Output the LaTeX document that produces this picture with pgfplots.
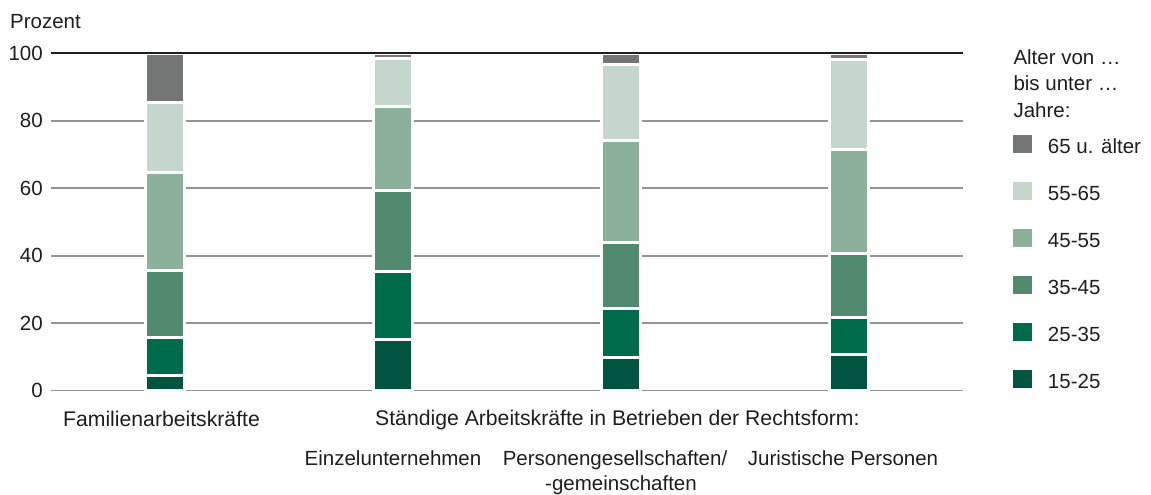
\documentclass[border=0pt]{standalone}
\usepackage{pgfplots}
\pgfplotsset{compat=1.18}
\usepackage{fontspec}
\setmainfont{Liberation Sans}
\definecolor{cfz}{HTML}{005440}
\definecolor{cfe}{HTML}{006B4B}
\definecolor{cde}{HTML}{528A70}
\definecolor{cve}{HTML}{8BB19B}
\definecolor{cff}{HTML}{C5D6CC}
\definecolor{csf}{HTML}{747676}
\definecolor{tc}{HTML}{1E1E1E}
\definecolor{gc}{HTML}{949494}
\begin{document}
\fontsize{20.5pt}{25pt}\selectfont
\begin{tikzpicture}
\useasboundingbox (0pt,0pt) rectangle (1151pt,-495pt);
\begin{axis}[
  name=ax,
  at={(51pt,-390.5pt)}, anchor=south west,
  scale only axis, width=912pt, height=337.2pt,
  xmin=-0.5, xmax=3.5, ymin=0, ymax=100,
  clip=false,
  ybar stacked, bar width=38.5pt,
  axis line style={draw=none},
  major tick length=0pt,
  tick style={draw=none},
  ytick={0,20,40,60,80,100},
  ymajorgrids, grid style={gc, line width=1.8pt},
  yticklabel style={anchor=east, inner sep=0pt, xshift=-8pt, text=tc},
  /pgf/number format/assume math mode=true,
  xtick={1,2,3},
  xticklabels={Einzelunternehmen,{Personengesellschaften/\hspace*{12pt}\\-gemeinschaften},{Juristische Personen\hspace*{12pt}}},
  xticklabel style={anchor=north, align=center, inner sep=0pt, yshift=-59.5pt, text=tc},
  extra x ticks={0},
  extra x tick labels={{\fontsize{21.2pt}{25pt}\selectfont Familienarbeitskräfte\hspace*{7pt}}},
  extra x tick style={xticklabel style={yshift=39.2pt}},
  reverse legend,
  legend style={at={(1.0548,0.7577)}, anchor=north west, draw=none, fill=none,
    inner xsep=0pt, inner ysep=0pt, outer sep=0pt, row sep=28.7pt, column sep=16pt,
    nodes={inner sep=0pt, text depth=0pt, text=tc}, cells={anchor=base west}},
  every axis plot post/.append style={legend image code/.code={\fill[##1,draw=none] (0pt,-0.3pt) rectangle (19pt,18pt);}},
]
\addplot[fill=cfz, draw=white, line width=3pt] coordinates {(0,4.4) (1,15.1) (2,9.8) (3,10.6)};
\addlegendentry{15-25}
\addplot[fill=cfe, draw=white, line width=3pt] coordinates {(0,11.4) (1,20.2) (2,14.4) (3,11.1)};
\addlegendentry{25-35}
\addplot[fill=cde, draw=white, line width=3pt] coordinates {(0,19.7) (1,24.1) (2,19.7) (3,18.8)};
\addlegendentry{35-45}
\addplot[fill=cve, draw=white, line width=3pt] coordinates {(0,29.1) (1,24.9) (2,30.2) (3,31.1)};
\addlegendentry{45-55}
\addplot[fill=cff, draw=white, line width=3pt] coordinates {(0,20.7) (1,14.3) (2,22.5) (3,26.7)};
\addlegendentry{55-65}
\addplot[fill=csf, draw=white, line width=3pt] coordinates {(0,14.7) (1,1.4) (2,3.4) (3,1.7)};
\addlegendentry{65 u. älter}
\end{axis}
\draw[tc, line width=2.3pt] (ax.north west) -- (ax.north east);
\node[anchor=base west, inner sep=0pt, text=tc] at (10pt,-28.3pt) {Prozent};
\node[anchor=base west, inner sep=0pt, text=tc, font=\fontsize{21.2pt}{25pt}\selectfont] at (375pt,-425.7pt) {Ständige Arbeitskräfte in Betrieben der Rechtsform:};
\node[anchor=base west, inner sep=0pt, text=tc] at (1013.3pt,-65pt) {Alter von …};
\node[anchor=base west, inner sep=0pt, text=tc] at (1013.3pt,-91pt) {bis unter …};
\node[anchor=base west, inner sep=0pt, text=tc] at (1013.3pt,-117pt) {Jahre:};
\end{tikzpicture}
\end{document}
